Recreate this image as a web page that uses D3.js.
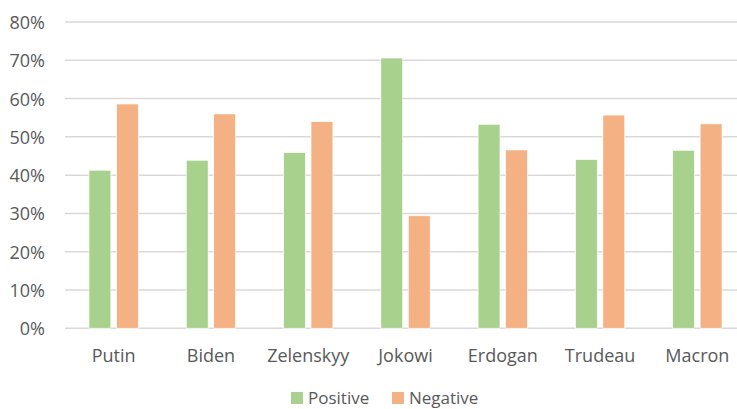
<!DOCTYPE html>
<html><head><meta charset="utf-8">
<script src="https://cdn.jsdelivr.net/npm/d3@7"></script>
<style>html,body{margin:0;padding:0;background:#fff;overflow:hidden}</style>
</head><body>
<svg id="c" width="737" height="409"></svg>
<script>
const categories = ["Putin","Biden","Zelenskyy","Jokowi","Erdogan","Trudeau","Macron"];
const positive = [41.3, 43.9, 45.9, 70.6, 53.3, 44.1, 46.5];
const negative = [58.6, 56.0, 54.0, 29.4, 46.6, 55.7, 53.4];
const seriesNames = ["Positive","Negative"];
const colors = ["#A9D18E","#F4B183"];
const yTicks = [0,10,20,30,40,50,60,70,80];

const svg = d3.select("#c");
const font = "'Open Sans', sans-serif";
const x = d3.scaleBand().domain(categories).range([65, 746]).paddingInner(0).paddingOuter(0);
const y = d3.scaleLinear().domain([0, 80]).range([328.3, 22]);
const inner = d3.scaleBand().domain(seriesNames).range([x.bandwidth()*0.246, x.bandwidth()*0.754]).paddingInner(0.2);

// gridlines
svg.append("g").selectAll("line").data(yTicks).join("line")
  .attr("x1", 65).attr("x2", 746)
  .attr("y1", d => y(d)).attr("y2", d => y(d))
  .attr("stroke", "#D9D9D9").attr("stroke-width", 1.5);

// y labels
const yAxis = d3.axisLeft(y).tickValues(yTicks).tickFormat(d => d + "%").tickSize(0).tickPadding(0);
const ya = svg.append("g").attr("transform", "translate(45,0)").call(yAxis);
ya.select(".domain").remove();
ya.selectAll("text").attr("font-family", font).attr("font-size", 18).attr("fill", "#595959").attr("dy", "0.36em");

// bars
const data = categories.map((c, i) => ({c, vals: [positive[i], negative[i]]}));
const groups = svg.append("g").selectAll("g").data(data).join("g")
  .attr("transform", d => `translate(${x(d.c)},0)`);
groups.selectAll("rect").data(d => d.vals.map((v, j) => ({v, s: seriesNames[j], j}))).join("rect")
  .attr("x", d => inner(d.s)).attr("width", inner.bandwidth())
  .attr("y", d => y(d.v)).attr("height", d => y(0) - y(d.v))
  .attr("fill", d => colors[d.j]).attr("stroke", "#fff").attr("stroke-width", 0.75);

// x labels
const xAxis = d3.axisBottom(x).tickSize(0).tickPadding(0);
const xa = svg.append("g").attr("transform", "translate(0,356)").call(xAxis);
xa.select(".domain").remove();
xa.selectAll("text").attr("font-family", font).attr("font-size", 18).attr("fill", "#595959").attr("dy", "0.36em");

// legend
const legX = [291, 392];
const leg = svg.append("g").selectAll("g").data(seriesNames).join("g")
  .attr("transform", (d, i) => `translate(${legX[i]},392)`);
leg.append("rect").attr("width", 12).attr("height", 12).attr("fill", (d, i) => colors[i]);
leg.append("text").attr("x", 17).attr("y", 6).attr("dy", "0.36em")
  .attr("font-family", font).attr("font-size", 17).attr("fill", "#595959").text(d => d);
</script>
</body></html>
